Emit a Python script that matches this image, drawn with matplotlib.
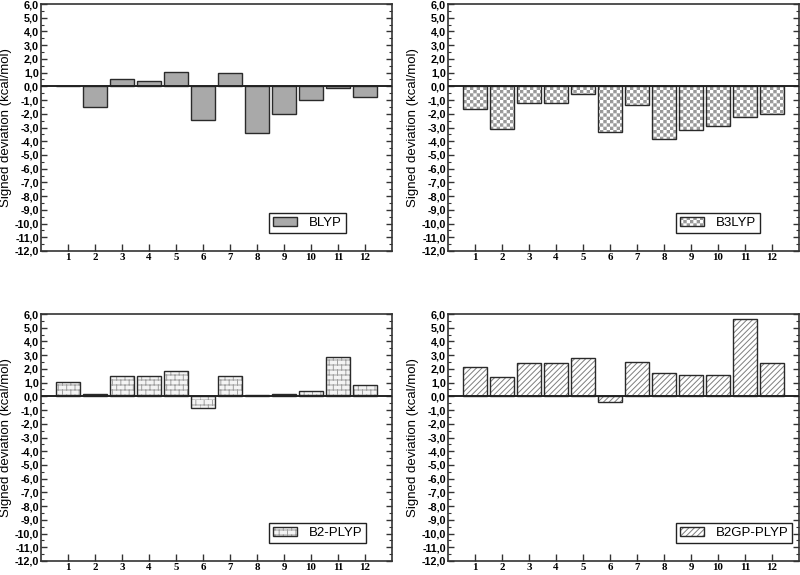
import warnings
warnings.filterwarnings('ignore')
import numpy as np
import matplotlib
matplotlib.use('Agg')
import matplotlib.pyplot as plt
import matplotlib.hatch as mhatch
from matplotlib.path import Path
from matplotlib.ticker import MultipleLocator, FuncFormatter
from matplotlib.legend_handler import HandlerTuple
from matplotlib.font_manager import FontProperties

# ---------------- data ----------------
systems = list(range(1, 13))
blyp = [0.0, -1.48, 0.53, 0.41, 1.07, -2.48, 0.95, -3.40, -2.02, -0.97, -0.10, -0.75]
b3lyp = [-1.63, -3.11, -1.19, -1.24, -0.56, -3.36, -1.39, -3.87, -3.21, -2.87, -2.26, -2.00]
b2plyp = [1.07, 0.15, 1.46, 1.46, 1.87, -0.83, 1.46, 0.07, 0.19, 0.39, 2.85, 0.83]
b2gpplyp = [2.17, 1.39, 2.46, 2.46, 2.77, -0.41, 2.53, 1.73, 1.53, 1.58, 5.64, 2.41]
method_names = ["BLYP", "B3LYP", "B2-PLYP", "B2GP-PLYP"]
y_label = "Signed deviation (kcal/mol)"

plt.rcParams['hatch.linewidth'] = 0.7


# ---------------- custom hatches ----------------
class CheckerHatch(mhatch.HatchPatternBase):
    def __init__(self, hatch, density):
        n = int(hatch.count('c') * density)
        n += n % 2
        self.n = n
        self.num_vertices = (n * n // 2) * 5

    def set_vertices_and_codes(self, vertices, codes):
        n = self.n
        s = 1.0 / n
        d = plt.rcParams['hatch.linewidth'] / 72.0 / 2.0
        k = 0
        for i in range(n):
            for j in range(n):
                if (i + j) % 2 == 0:
                    x0, y0 = i * s + d, j * s + d
                    x1, y1 = (i + 1) * s - d, (j + 1) * s - d
                    vertices[k:k + 5] = [(x0, y0), (x1, y0), (x1, y1), (x0, y1), (x0, y0)]
                    codes[k:k + 5] = [Path.MOVETO, Path.LINETO, Path.LINETO,
                                      Path.LINETO, Path.CLOSEPOLY]
                    k += 5


class BrickHatch(mhatch.HatchPatternBase):
    def __init__(self, hatch, density):
        if hatch.count('b') > 0:
            self.rows, self.cols = 20, 12
        else:
            self.rows, self.cols = 0, 0
        self.num_vertices = self.rows * 2 + self.rows * self.cols * 2

    def set_vertices_and_codes(self, vertices, codes):
        k = 0
        for r in range(self.rows):
            y0 = r / self.rows
            y1 = (r + 1) / self.rows
            vertices[k] = (0.0, y0)
            vertices[k + 1] = (1.0, y0)
            codes[k] = Path.MOVETO
            codes[k + 1] = Path.LINETO
            k += 2
            for c in range(self.cols):
                x = (c + 0.5 * (r % 2)) / self.cols
                vertices[k] = (x, y0)
                vertices[k + 1] = (x, y1)
                codes[k] = Path.MOVETO
                codes[k + 1] = Path.LINETO
                k += 2


mhatch._hatch_types.append(CheckerHatch)
mhatch._hatch_types.append(BrickHatch)

# ---------------- figure ----------------
fig = plt.figure(figsize=(8.0, 5.75), dpi=100)

W, H = 800.0, 575.0
ax_w = 351 / W
ax_h = 247 / H
positions = [
    (41 / W, 1 - 251 / H),
    (448 / W, 1 - 251 / H),
    (41 / W, 1 - 561 / H),
    (448 / W, 1 - 561 / H),
]

series = [blyp, b3lyp, b2plyp, b2gpplyp]
styles = [
    dict(face='#a9a9a9', hatch=None, hcolor='#a9a9a9'),
    dict(face='white', hatch='ccccc', hcolor='#989898'),
    dict(face='#f4f4f4', hatch='b', hcolor='#a0a0a0'),
    dict(face='white', hatch='//////', hcolor='#7e7e7e'),
]

tick_font = dict(family='Liberation Sans', weight='bold', size=7.8)
xtick_font = dict(family='Liberation Serif', weight='bold', size=7.8)

fmt = FuncFormatter(lambda v, p: f"{v:.1f}".replace('.', ',').replace('-0,0', '0,0'))

for (x0, y0), name, vals, st in zip(positions, method_names, series, styles):
    ax = fig.add_axes([x0, y0, ax_w, ax_h])
    b1 = ax.bar(systems, vals, width=0.86, color=st['face'], edgecolor=st['hcolor'],
                linewidth=0, hatch=st['hatch'], zorder=2)
    b2 = ax.bar(systems, vals, width=0.86, fill=False, edgecolor='#2a2a2a',
                linewidth=1.0, zorder=3)
    ax.axhline(0, color='#222222', lw=1.4, zorder=4)

    ax.set_xlim(0, 13)
    ax.set_ylim(-12, 6)
    ax.set_xticks(systems)
    ax.set_xticklabels([str(s) for s in systems], fontdict=xtick_font)
    ax.yaxis.set_major_locator(MultipleLocator(1))
    ax.yaxis.set_minor_locator(MultipleLocator(0.5))
    ax.yaxis.set_major_formatter(fmt)
    for lab in ax.get_yticklabels():
        lab.set_fontproperties(FontProperties(**tick_font))

    ax.tick_params(axis='x', which='both', direction='in', length=5, width=1.0,
                   pad=1.8, bottom=True, top=False, color='#333333')
    ax.tick_params(axis='y', which='major', direction='in', length=4.5, width=1.0,
                   left=True, right=True, pad=1.5, color='#333333')
    ax.tick_params(axis='y', which='minor', direction='in', length=2.5, width=0.8,
                   left=True, right=True, color='#333333')
    for sp in ax.spines.values():
        sp.set_linewidth(1.2)
        sp.set_color('#333333')

    ax.set_ylabel(y_label, family='Liberation Sans', size=9.5)
    ax.yaxis.set_label_coords(-0.082, 0.5)

    leg = ax.legend([(b1, b2)], [name],
                    handler_map={tuple: HandlerTuple(ndivide=1, pad=0)},
                    loc='lower left', bbox_to_anchor=(0.65, 0.073),
                    borderaxespad=0, frameon=True, fancybox=False,
                    edgecolor='#222222', framealpha=1,
                    prop=dict(family='Liberation Sans', size=9.5),
                    handlelength=1.8, handleheight=0.7, handletextpad=0.9,
                    borderpad=0.3)
    leg.get_frame().set_linewidth(1.0)

fig.savefig('out.png', dpi=100)
